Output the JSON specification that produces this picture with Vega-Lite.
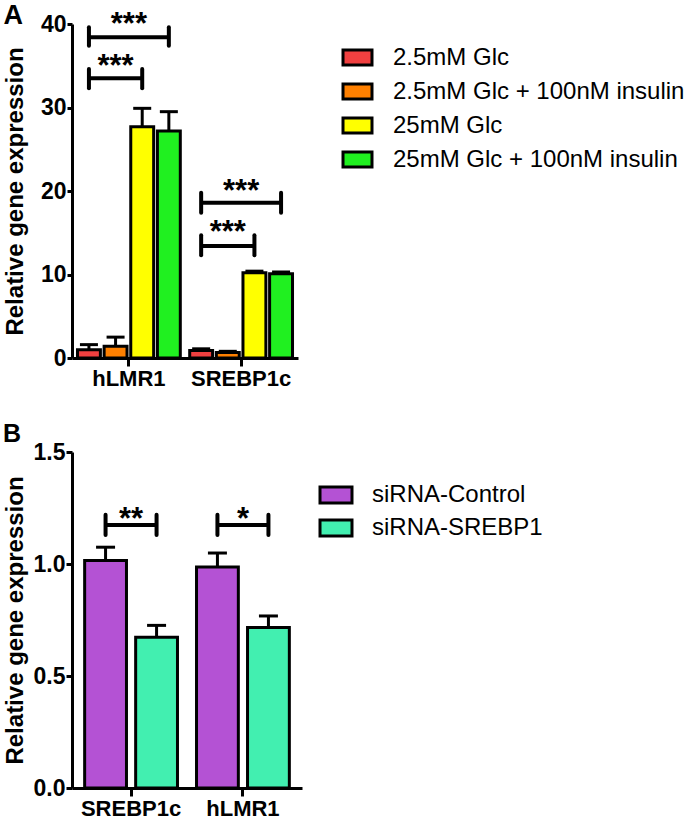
{
  "$schema": "https://vega.github.io/schema/vega-lite/v6.json",
  "padding": {"left": 3, "top": 2, "right": 0, "bottom": 0},
  "background": "white",
  "config": {
    "view": {"stroke": null},
    "font": "Liberation Sans",
    "axis": {
      "domainColor": "black", "domainWidth": 3, "tickColor": "black", "tickWidth": 3,
      "labelColor": "black", "labelFont": "Liberation Sans", "labelFontWeight": "bold", "labelFontSize": 23,
      "titleColor": "black", "titleFont": "Liberation Sans", "titleFontWeight": "bold", "titleFontSize": 24,
      "grid": false
    },
    "axisX": {"labelFontSize": 22},
    "legend": {
      "labelFont": "Liberation Sans", "labelFontSize": 24, "labelColor": "black", "labelLimit": 400,
      "symbolStrokeColor": "black", "symbolStrokeWidth": 3, "symbolOpacity": 1, "padding": 0
    },
    "title": {"font": "Liberation Sans", "fontWeight": "bold", "color": "black"}
  },
  "datasets": {
    "barsA": [
      {"gene": "hLMR1", "condition": "2.5mM Glc", "value": 1.0, "upper": 1.6},
      {"gene": "hLMR1", "condition": "2.5mM Glc + 100nM insulin", "value": 1.4, "upper": 2.5},
      {"gene": "hLMR1", "condition": "25mM Glc", "value": 27.7, "upper": 29.9},
      {"gene": "hLMR1", "condition": "25mM Glc + 100nM insulin", "value": 27.2, "upper": 29.5},
      {"gene": "SREBP1c", "condition": "2.5mM Glc", "value": 0.9, "upper": 1.1},
      {"gene": "SREBP1c", "condition": "2.5mM Glc + 100nM insulin", "value": 0.66, "upper": 0.8},
      {"gene": "SREBP1c", "condition": "25mM Glc", "value": 10.2, "upper": 10.4},
      {"gene": "SREBP1c", "condition": "25mM Glc + 100nM insulin", "value": 10.1, "upper": 10.3}
    ],
    "bracketsA": [
      {"id": "h1", "gene": "hLMR1", "condition": "2.5mM Glc", "y": 33.5, "lo": 32.3, "hi": 34.6},
      {"id": "h1", "gene": "hLMR1", "condition": "25mM Glc", "y": 33.5, "lo": 32.3, "hi": 34.6},
      {"id": "h2", "gene": "hLMR1", "condition": "2.5mM Glc", "y": 38.4, "lo": 37.4, "hi": 39.6},
      {"id": "h2", "gene": "hLMR1", "condition": "25mM Glc + 100nM insulin", "y": 38.4, "lo": 37.4, "hi": 39.6},
      {"id": "s1", "gene": "SREBP1c", "condition": "2.5mM Glc", "y": 13.4, "lo": 12.3, "hi": 14.7},
      {"id": "s1", "gene": "SREBP1c", "condition": "25mM Glc", "y": 13.4, "lo": 12.3, "hi": 14.7},
      {"id": "s2", "gene": "SREBP1c", "condition": "2.5mM Glc", "y": 18.6, "lo": 17.4, "hi": 19.8},
      {"id": "s2", "gene": "SREBP1c", "condition": "25mM Glc + 100nM insulin", "y": 18.6, "lo": 17.4, "hi": 19.8}
    ],
    "starsA1": [
      {"gene": "hLMR1", "condition": "2.5mM Glc + 100nM insulin", "y": 33.8, "label": "***"},
      {"gene": "SREBP1c", "condition": "2.5mM Glc + 100nM insulin", "y": 13.9, "label": "***"}
    ],
    "starsA2": [
      {"gene": "hLMR1", "y": 38.8, "label": "***"},
      {"gene": "SREBP1c", "y": 18.8, "label": "***"}
    ],
    "barsB": [
      {"gene": "SREBP1c", "condition": "siRNA-Control", "value": 1.016, "upper": 1.075},
      {"gene": "SREBP1c", "condition": "siRNA-SREBP1", "value": 0.673, "upper": 0.726},
      {"gene": "hLMR1", "condition": "siRNA-Control", "value": 0.987, "upper": 1.049},
      {"gene": "hLMR1", "condition": "siRNA-SREBP1", "value": 0.717, "upper": 0.768}
    ],
    "bracketsB": [
      {"id": "b1", "gene": "SREBP1c", "condition": "siRNA-Control", "y": 1.174, "lo": 1.13, "hi": 1.22},
      {"id": "b1", "gene": "SREBP1c", "condition": "siRNA-SREBP1", "y": 1.174, "lo": 1.13, "hi": 1.22},
      {"id": "b2", "gene": "hLMR1", "condition": "siRNA-Control", "y": 1.174, "lo": 1.13, "hi": 1.22},
      {"id": "b2", "gene": "hLMR1", "condition": "siRNA-SREBP1", "y": 1.174, "lo": 1.13, "hi": 1.22}
    ],
    "starsB": [
      {"gene": "SREBP1c", "y": 1.156, "label": "**"},
      {"gene": "hLMR1", "y": 1.156, "label": "*"}
    ]
  },
  "vconcat": [
    {
      "title": {"text": "A", "anchor": "start", "frame": "bounds", "fontSize": 27, "offset": -21},
      "width": 226,
      "height": 334,
      "encoding": {
        "x": {"field": "gene", "type": "nominal", "sort": ["hLMR1", "SREBP1c"],
              "scale": {"domain": ["hLMR1", "SREBP1c"], "paddingInner": 0.06, "paddingOuter": 0.037},
              "axis": {"title": null, "labelAngle": 0, "tickSize": 8, "labelPadding": 2}},
        "xOffset": {"field": "condition", "type": "nominal",
              "scale": {"domain": ["2.5mM Glc", "2.5mM Glc + 100nM insulin", "25mM Glc", "25mM Glc + 100nM insulin"], "paddingInner": 0.14, "paddingOuter": 0.05}}
      },
      "layer": [
        {
          "data": {"name": "barsA"},
          "mark": {"type": "bar", "stroke": "black", "strokeWidth": 3},
          "encoding": {
            "y": {"field": "value", "type": "quantitative",
                  "scale": {"domain": [0, 40], "nice": false},
                  "axis": {"title": "Relative gene expression", "values": [0, 10, 20, 30, 40], "tickSize": 5, "labelPadding": 1, "titlePadding": 13}},
            "fill": {"field": "condition", "type": "nominal",
                  "scale": {"domain": ["2.5mM Glc", "2.5mM Glc + 100nM insulin", "25mM Glc", "25mM Glc + 100nM insulin"],
                            "range": ["#F04040", "#FF8000", "#FFFF00", "#20F020"]},
                  "legend": {"title": null, "orient": "none", "legendX": 268, "legendY": 16,
                             "symbolType": "M-0.906,-0.47H0.906V0.47H-0.906Z", "symbolSize": 1024,
                             "labelOffset": 18, "rowPadding": 2}}
          }
        },
        {
          "data": {"name": "barsA"},
          "mark": {"type": "rule", "color": "black", "strokeWidth": 3},
          "encoding": {"y": {"field": "value", "type": "quantitative"}, "y2": {"field": "upper"}}
        },
        {
          "data": {"name": "barsA"},
          "mark": {"type": "tick", "color": "black", "thickness": 3, "size": 18, "opacity": 1},
          "encoding": {"y": {"field": "upper", "type": "quantitative"}}
        },
        {
          "data": {"name": "bracketsA"},
          "mark": {"type": "line", "color": "black", "strokeWidth": 4},
          "encoding": {"y": {"field": "y", "type": "quantitative"}, "detail": {"field": "id"}}
        },
        {
          "data": {"name": "bracketsA"},
          "mark": {"type": "rule", "color": "black", "strokeWidth": 4, "strokeCap": "round"},
          "encoding": {"y": {"field": "lo", "type": "quantitative"}, "y2": {"field": "hi"}}
        },
        {
          "data": {"name": "starsA1"},
          "mark": {"type": "text", "fontSize": 31, "fontWeight": "bold", "baseline": "alphabetic", "align": "center", "color": "black"},
          "encoding": {"y": {"field": "y", "type": "quantitative"}, "text": {"field": "label"}}
        },
        {
          "data": {"name": "starsA2"},
          "mark": {"type": "text", "fontSize": 31, "fontWeight": "bold", "baseline": "alphabetic", "align": "center", "color": "black"},
          "encoding": {"y": {"field": "y", "type": "quantitative"}, "text": {"field": "label"}, "xOffset": null}
        }
      ]
    },
    {
      "title": {"text": "B", "anchor": "start", "frame": "bounds", "fontSize": 25, "offset": -6},
      "width": 230,
      "height": 336,
      "encoding": {
        "x": {"field": "gene", "type": "nominal", "sort": ["SREBP1c", "hLMR1"],
              "scale": {"domain": ["SREBP1c", "hLMR1"], "paddingInner": 0.12, "paddingOuter": 0.088},
              "axis": {"title": null, "labelAngle": 0, "tickSize": 8, "labelPadding": 2}},
        "xOffset": {"field": "condition", "type": "nominal",
              "scale": {"domain": ["siRNA-Control", "siRNA-SREBP1"], "paddingInner": 0.18, "paddingOuter": 0.055}}
      },
      "layer": [
        {
          "data": {"name": "barsB"},
          "mark": {"type": "bar", "stroke": "black", "strokeWidth": 3},
          "encoding": {
            "y": {"field": "value", "type": "quantitative",
                  "scale": {"domain": [0, 1.5], "nice": false},
                  "axis": {"title": "Relative gene expression", "values": [0, 0.5, 1, 1.5], "format": ".1f", "tickSize": 6, "labelPadding": 1, "titlePadding": 6}},
            "fill": {"field": "condition", "type": "nominal",
                  "scale": {"domain": ["siRNA-Control", "siRNA-SREBP1"], "range": ["#B452D4", "#42EFB0"]},
                  "legend": {"title": null, "orient": "none", "legendX": 245, "legendY": 24,
                             "symbolType": "M-0.914,-0.457H0.914V0.457H-0.914Z", "symbolSize": 1225,
                             "labelOffset": 17, "rowPadding": 0}}
          }
        },
        {
          "data": {"name": "barsB"},
          "mark": {"type": "rule", "color": "black", "strokeWidth": 3},
          "encoding": {"y": {"field": "value", "type": "quantitative"}, "y2": {"field": "upper"}}
        },
        {
          "data": {"name": "barsB"},
          "mark": {"type": "tick", "color": "black", "thickness": 3, "size": 19, "opacity": 1},
          "encoding": {"y": {"field": "upper", "type": "quantitative"}}
        },
        {
          "data": {"name": "bracketsB"},
          "mark": {"type": "line", "color": "black", "strokeWidth": 4},
          "encoding": {"y": {"field": "y", "type": "quantitative"}, "detail": {"field": "id"}}
        },
        {
          "data": {"name": "bracketsB"},
          "mark": {"type": "rule", "color": "black", "strokeWidth": 4, "strokeCap": "round"},
          "encoding": {"y": {"field": "lo", "type": "quantitative"}, "y2": {"field": "hi"}}
        },
        {
          "data": {"name": "starsB"},
          "mark": {"type": "text", "fontSize": 31, "fontWeight": "bold", "baseline": "alphabetic", "align": "center", "color": "black"},
          "encoding": {"y": {"field": "y", "type": "quantitative"}, "text": {"field": "label"}, "xOffset": null}
        }
      ]
    }
  ],
  "spacing": 33,
  "resolve": {
    "scale": {"x": "independent", "y": "independent", "xOffset": "independent", "fill": "independent"},
    "axis": {"x": "independent", "y": "independent"},
    "legend": {"fill": "independent"}
  }
}
